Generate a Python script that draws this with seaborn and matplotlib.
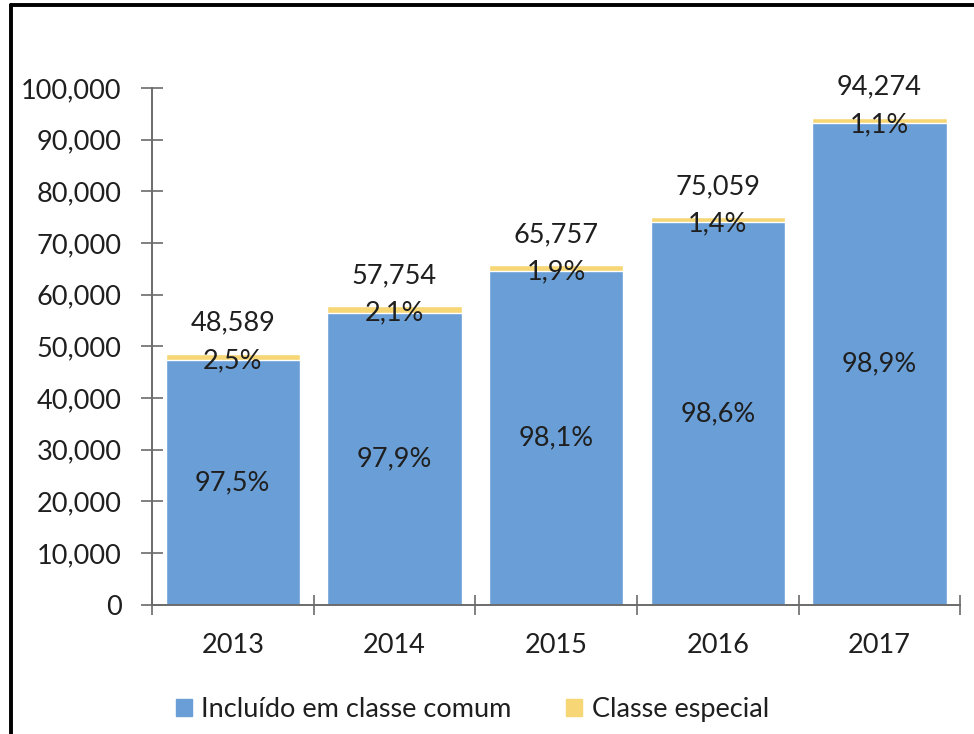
import seaborn as sns
import matplotlib.pyplot as plt
from matplotlib.patches import Patch
from matplotlib.ticker import FuncFormatter, FixedLocator

anos = ["2013", "2014", "2015", "2016", "2017"]
totais = [48589, 57754, 65757, 75059, 94274]
comum = [47374, 56541, 64508, 74008, 93237]
pct_comum = ["97,5%", "97,9%", "98,1%", "98,6%", "98,9%"]
pct_especial = ["2,5%", "2,1%", "1,9%", "1,4%", "1,1%"]

azul = "#699FD6"
amarelo = "#F6D675"
texto = "#1f1f1f"
fs = 19.5

sns.set_style("ticks")
plt.rcParams["font.family"] = ["Lato", "DejaVu Sans"]

fig = plt.figure(figsize=(9.74, 7.34), dpi=100)
ax = fig.add_axes([0.156, 0.176, 0.830, 0.704])

# yellow = total, blue drawn over it -> stacked look
sns.barplot(x=anos, y=totais, color=amarelo, width=0.83, saturation=1, ax=ax)
sns.barplot(x=anos, y=comum, color=azul, width=0.83, saturation=1, ax=ax)

for i in range(len(anos)):
    ax.text(i, totais[i] + 5900, f"{totais[i]:,}", ha="center", va="center",
            fontsize=fs, color=texto)
    ax.text(i, totais[i] - 1300, pct_especial[i], ha="center", va="center",
            fontsize=fs, color=texto)
    ax.text(i, comum[i] / 2, pct_comum[i], ha="center", va="center",
            fontsize=fs, color=texto)

ax.set_ylim(0, 100000)
ax.set_xlim(-0.5, 4.5)
ax.set_yticks(range(0, 100001, 10000))
ax.yaxis.set_major_formatter(FuncFormatter(lambda v, p: f"{int(v):,}"))
ax.set_xlabel("")
ax.set_ylabel("")

# x ticks at category borders, labels in between
ax.xaxis.set_major_locator(FixedLocator([-0.5, 0.5, 1.5, 2.5, 3.5, 4.5]))
ax.xaxis.set_minor_locator(FixedLocator([0, 1, 2, 3, 4]))
ax.set_xticklabels([])
ax.set_xticklabels(anos, minor=True)
ax.tick_params(axis="x", which="major", direction="inout", length=14, width=1.2, color="#6b6b6b")
ax.tick_params(axis="x", which="minor", direction="out", length=0, pad=20, labelsize=fs, labelcolor=texto)
ax.tick_params(axis="y", direction="inout", length=16, width=1.2, color="#6b6b6b",
               labelsize=fs, labelcolor=texto, pad=14)

sns.despine(ax=ax)
for s in ("left", "bottom"):
    ax.spines[s].set_color("#6b6b6b")
    ax.spines[s].set_linewidth(1.4)

handles = [Patch(color=azul, label="Incluído em classe comum"),
           Patch(color=amarelo, label="Classe especial")]
fig.legend(handles=handles, loc="center", bbox_to_anchor=(0.485, 0.033), ncol=2,
           frameon=False, fontsize=fs, handlelength=0.6, handleheight=0.6,
           handletextpad=0.35, columnspacing=2.0, labelcolor=texto)

# frame lines on left and top
fig.add_artist(plt.Line2D([0.011, 0.011], [0, 0.993], color="black", lw=2.8))
fig.add_artist(plt.Line2D([0.011, 1.0], [0.993, 0.993], color="black", lw=2.8))

fig.savefig("out.png", dpi=100)
